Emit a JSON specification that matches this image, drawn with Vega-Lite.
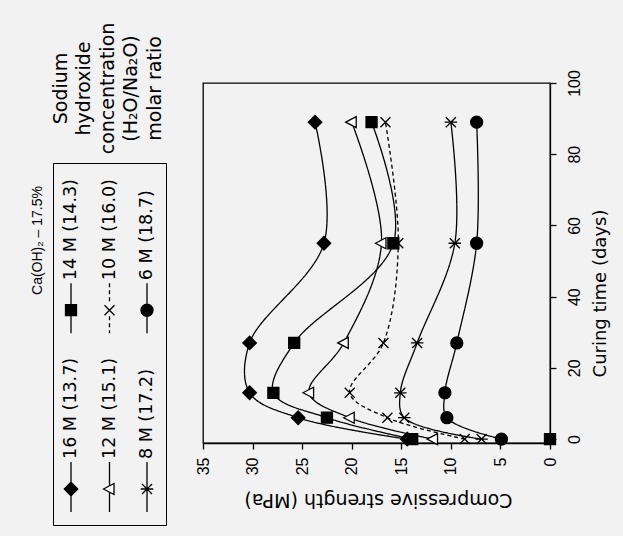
{
  "$schema": "https://vega.github.io/schema/vega-lite/v6.json",
  "width": 347,
  "height": 360,
  "autosize": {"type": "none"},
  "padding": {"left": 203, "top": 83, "right": 73, "bottom": 93},
  "background": "#f2f2f2",
  "config": {
    "view": {"stroke": "black", "strokeWidth": 1.3},
    "axis": {
      "domainColor": "black", "domainWidth": 1.3, "tickColor": "black", "tickWidth": 1.3, "tickSize": 6,
      "labelColor": "black", "titleColor": "black", "grid": false,
      "labelFont": "Liberation Sans", "labelFontSize": 16,
      "titleFont": "DejaVu Sans", "titleFontWeight": "normal"
    }
  },
  "datasets": {
    "curves": [
      {"series": "16 M (13.7)", "time": 0, "strength": 14.4},
      {"series": "16 M (13.7)", "time": 6, "strength": 25.4},
      {"series": "16 M (13.7)", "time": 13, "strength": 30.3},
      {"series": "16 M (13.7)", "time": 27, "strength": 30.3},
      {"series": "16 M (13.7)", "time": 55, "strength": 22.8},
      {"series": "16 M (13.7)", "time": 89, "strength": 23.7},
      {"series": "14 M (14.3)", "time": 0, "strength": 13.9},
      {"series": "14 M (14.3)", "time": 6, "strength": 22.5},
      {"series": "14 M (14.3)", "time": 13, "strength": 27.9},
      {"series": "14 M (14.3)", "time": 27, "strength": 25.8},
      {"series": "14 M (14.3)", "time": 55, "strength": 15.8},
      {"series": "14 M (14.3)", "time": 89, "strength": 18.0},
      {"series": "12 M (15.1)", "time": 0, "strength": 11.8},
      {"series": "12 M (15.1)", "time": 6, "strength": 20.2},
      {"series": "12 M (15.1)", "time": 13, "strength": 24.3},
      {"series": "12 M (15.1)", "time": 27, "strength": 20.8},
      {"series": "12 M (15.1)", "time": 55, "strength": 17.0},
      {"series": "12 M (15.1)", "time": 89, "strength": 20.0},
      {"series": "10 M (16.0)", "time": 0, "strength": 8.6},
      {"series": "10 M (16.0)", "time": 6, "strength": 16.4},
      {"series": "10 M (16.0)", "time": 13, "strength": 20.2},
      {"series": "10 M (16.0)", "time": 27, "strength": 16.8},
      {"series": "10 M (16.0)", "time": 55, "strength": 15.3},
      {"series": "10 M (16.0)", "time": 89, "strength": 16.6},
      {"series": "8 M (17.2)", "time": 0, "strength": 6.9},
      {"series": "8 M (17.2)", "time": 6, "strength": 14.7},
      {"series": "8 M (17.2)", "time": 13, "strength": 15.1},
      {"series": "8 M (17.2)", "time": 27, "strength": 13.4},
      {"series": "8 M (17.2)", "time": 55, "strength": 9.6},
      {"series": "8 M (17.2)", "time": 89, "strength": 10.0},
      {"series": "6 M (18.7)", "time": 0, "strength": 4.9},
      {"series": "6 M (18.7)", "time": 6, "strength": 10.4},
      {"series": "6 M (18.7)", "time": 13, "strength": 10.6},
      {"series": "6 M (18.7)", "time": 27, "strength": 9.4},
      {"series": "6 M (18.7)", "time": 55, "strength": 7.4},
      {"series": "6 M (18.7)", "time": 89, "strength": 7.4}
    ],
    "lone": [
      {"series": "14 M (14.3)", "time": 0, "strength": 0}
    ]
  },
  "layer": [
    {
      "data": {"name": "curves"},
      "mark": {"type": "line", "interpolate": "catmull-rom", "stroke": "black", "strokeWidth": 1.3},
      "encoding": {
        "x": {
          "field": "strength", "type": "quantitative",
          "scale": {"domain": [0, 35], "reverse": true, "nice": false, "zero": false},
          "axis": {
            "orient": "bottom", "values": [0, 5, 10, 15, 20, 25, 30, 35],
            "labelAngle": -90, "labelAlign": "right", "labelBaseline": "middle", "labelPadding": 8,
            "labelFlush": false, "labelOverlap": false,
            "title": "Compressive strength (MPa)", "titleAngle": 180, "titleFontSize": 19,
            "titleX": 175, "titleY": 56, "titleAlign": "center", "titleBaseline": "middle"
          }
        },
        "y": {
          "field": "time", "type": "quantitative",
          "scale": {"domain": [-1.1, 100], "nice": false, "zero": false},
          "axis": {
            "orient": "right", "values": [0, 20, 40, 60, 80, 100],
            "labelAngle": -90, "labelAlign": "center", "labelBaseline": "top", "labelPadding": 10,
            "labelFlush": false, "labelOverlap": false,
            "title": "Curing time (days)", "titleAngle": -90, "titleFontSize": 18,
            "titleX": 50, "titleY": 210, "titleAlign": "center", "titleBaseline": "middle"
          }
        },
        "strokeDash": {
          "field": "series", "type": "nominal",
          "scale": {
            "domain": ["14 M (14.3)", "16 M (13.7)", "10 M (16.0)", "12 M (15.1)", "6 M (18.7)", "8 M (17.2)"],
            "range": [[1, 0], [1, 0], [4, 3], [1, 0], [1, 0], [1, 0]]
          },
          "legend": null
        },
        "order": {"field": "time", "type": "quantitative"}
      }
    },
    {
      "data": {"name": "curves"},
      "mark": {"type": "point", "filled": true, "stroke": "black", "strokeWidth": 1.3, "size": 100, "opacity": 1},
      "encoding": {
        "x": {
          "field": "strength", "type": "quantitative",
          "axis": {
            "orient": "top", "labels": false, "ticks": false, "domain": false,
            "title": ["Sodium", "hydroxide", "concentration", "(H₂O/Na₂O)", "molar ratio"],
            "titleAngle": -90, "titleFontSize": 19, "titleLineHeight": 23.5,
            "titleX": -152, "titleY": 5, "titleAlign": "center", "titleBaseline": "top"
          }
        },
        "y": {
          "field": "time", "type": "quantitative",
          "axis": {
            "orient": "left", "labels": false, "ticks": false, "domain": false,
            "title": "Ca(OH)₂ – 17.5%",
            "titleAngle": -90, "titleFont": "Liberation Sans", "titleFontSize": 14,
            "titleX": -166, "titleY": 157, "titleAlign": "center", "titleBaseline": "middle"
          }
        },
        "shape": {
          "field": "series", "type": "nominal",
          "scale": {
            "domain": ["14 M (14.3)", "16 M (13.7)", "10 M (16.0)", "12 M (15.1)", "6 M (18.7)", "8 M (17.2)"],
            "range": [
              "M-1.1,-1.1H1.1V1.1H-1.1Z",
              "M0,-1.35L1.35,0L0,1.35L-1.35,0Z",
              "M-1,-1L1,1M-1,1L1,-1",
              "M-1.2,0L0.9,-1.1L0.9,1.1Z",
              "M1.2,0A1.2,1.2,0,1,1,-1.2,0A1.2,1.2,0,1,1,1.2,0Z",
              "M-1,-1L1,1M-1,1L1,-1M-1.25,0H1.25"
            ]
          },
          "legend": null
        },
        "fill": {
          "field": "series", "type": "nominal",
          "scale": {
            "domain": ["14 M (14.3)", "16 M (13.7)", "10 M (16.0)", "12 M (15.1)", "6 M (18.7)", "8 M (17.2)"],
            "range": ["black", "black", "transparent", "white", "black", "transparent"]
          },
          "legend": null
        }
      }
    },
    {
      "data": {"name": "curves"},
      "mark": {"type": "point", "filled": true, "stroke": "black", "strokeWidth": 1.3, "size": 100, "opacity": 0},
      "encoding": {
        "x": {"field": "strength", "type": "quantitative", "axis": null},
        "y": {"field": "time", "type": "quantitative", "axis": null},
        "shape": {
          "field": "series", "type": "nominal",
          "scale": {
            "domain": ["14 M (14.3)", "16 M (13.7)", "10 M (16.0)", "12 M (15.1)", "6 M (18.7)", "8 M (17.2)"],
            "range": [
              "M0,-5.4V4.6M-1.1,-1.1H1.1V1.1H-1.1Z",
              "M0,-5.4V4.6M0,-1.35L1.35,0L0,1.35L-1.35,0Z",
              "M0,-5.4V-4.6M0,-4V-3.2M0,-2.6V-1.8M0,1.2V2M0,2.6V3.4M0,4V4.6M-1,-1L1,1M-1,1L1,-1",
              "M0,-5.4V-0.6M0,0.6V4.6M-1.2,0L0.9,-1.1L0.9,1.1Z",
              "M0,-5.4V4.6M1.2,0A1.2,1.2,0,1,1,-1.2,0A1.2,1.2,0,1,1,1.2,0Z",
              "M0,-5.4V4.6M-1,-1L1,1M-1,1L1,-1M-1.25,0H1.25"
            ]
          },
          "legend": {
            "orient": "none", "legendX": -150, "legendY": 80,
            "direction": "vertical", "columns": 3,
            "title": null,
            "strokeColor": "black", "padding": 10,
            "rowPadding": 16, "columnPadding": 19.5,
            "labelFont": "DejaVu Sans", "labelFontSize": 17.5, "labelColor": "black", "labelLimit": 300,
            "symbolSize": 100, "symbolStrokeColor": "black", "symbolStrokeWidth": 1.3, "symbolOpacity": 1,
            "encoding": {
              "symbols": {
                "x": {"value": 8}, "y": {"value": 137},
                "stroke": {"value": "black"}, "strokeWidth": {"value": 1.3}
              },
              "labels": {
                "angle": {"value": -90}, "align": {"value": "left"}, "baseline": {"value": "middle"},
                "x": {"value": 8}, "y": {"value": 107}
              }
            }
          }
        },
        "fill": {
          "field": "series", "type": "nominal",
          "scale": {
            "domain": ["14 M (14.3)", "16 M (13.7)", "10 M (16.0)", "12 M (15.1)", "6 M (18.7)", "8 M (17.2)"],
            "range": ["black", "black", "transparent", "white", "black", "transparent"]
          },
          "legend": {
            "orient": "none", "legendX": -150, "legendY": 80,
            "direction": "vertical", "columns": 3,
            "title": null,
            "strokeColor": "black", "padding": 10,
            "rowPadding": 16, "columnPadding": 19.5,
            "labelFont": "DejaVu Sans", "labelFontSize": 17.5, "labelColor": "black", "labelLimit": 300,
            "symbolSize": 100, "symbolStrokeColor": "black", "symbolStrokeWidth": 1.3, "symbolOpacity": 1,
            "encoding": {
              "symbols": {
                "x": {"value": 8}, "y": {"value": 137},
                "stroke": {"value": "black"}, "strokeWidth": {"value": 1.3}
              },
              "labels": {
                "angle": {"value": -90}, "align": {"value": "left"}, "baseline": {"value": "middle"},
                "x": {"value": 8}, "y": {"value": 107}
              }
            }
          }
        }
      }
    },
    {
      "data": {"name": "lone"},
      "mark": {"type": "point", "filled": true, "fill": "black", "stroke": "black", "strokeWidth": 1.3, "size": 100, "opacity": 1, "shape": "M-1.1,-1.1H1.1V1.1H-1.1Z"},
      "encoding": {
        "x": {"field": "strength", "type": "quantitative", "axis": null},
        "y": {"field": "time", "type": "quantitative", "axis": null}
      }
    }
  ],
  "resolve": {
    "scale": {"shape": "independent", "fill": "independent"},
    "axis": {"x": "independent", "y": "independent"}
  }
}
